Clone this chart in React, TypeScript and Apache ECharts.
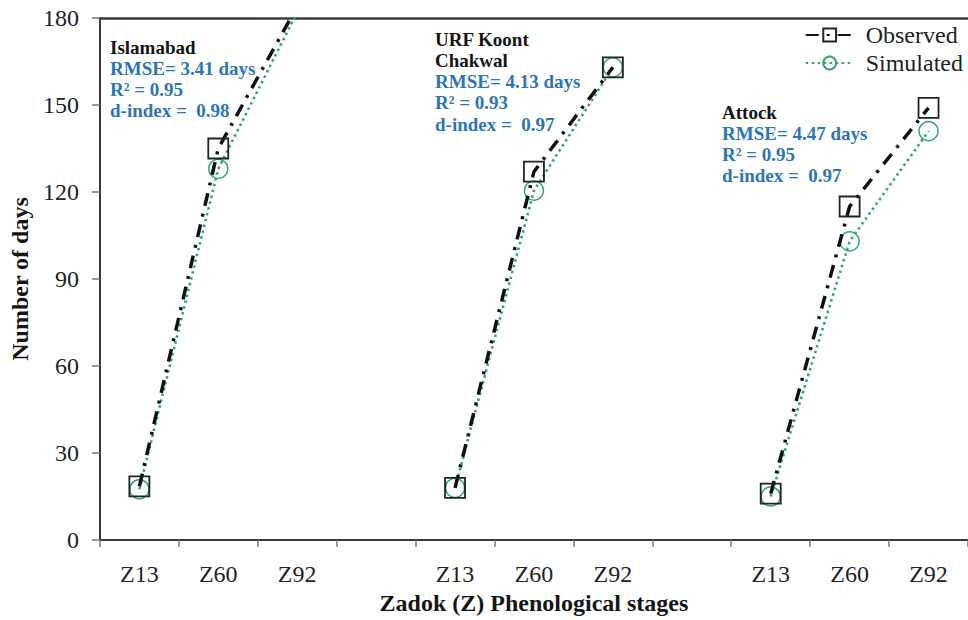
import React, { useEffect, useRef } from "react";
import * as echarts from "echarts";

const categories = ["Z13", "Z60", "Z92", "", "Z13", "Z60", "Z92", "", "Z13", "Z60", "Z92"];
const observed = [18.5, 135, 184, null, 18, 127, 163, null, 16, 115, 149];
const simulated = [17.5, 128, 182, null, 18, 120.5, 163, null, 15, 103, 141];

const siteNames = [["Islamabad"], ["URF Koont", "Chakwal"], ["Attock"]];
const siteRmse = ["3.41", "4.13", "4.47"];
const siteR2 = ["0.95", "0.93", "0.95"];
const siteD = ["0.98", "0.97", "0.97"];

const SERIF = "'Liberation Serif', 'Times New Roman', serif";
const BLUE = "#2e75b6";
const GREEN = "#35a56e";

// positions of annotation blocks (layout only)
const blockPos = [
  { x: 110, y: 47 },
  { x: 435, y: 39 },
  { x: 722, y: 112 },
];
const LINE_H = 21.3;

export default function App() {
  const ref = useRef<HTMLDivElement>(null);
  useEffect(() => {
    if (!ref.current) return;
    const chart = echarts.init(ref.current, null, { renderer: "svg" });

    const graphics: any[] = [];
    siteNames.forEach((names, i) => {
      const lines: { t: string; c: string }[] = [];
      names.forEach((n) => lines.push({ t: n, c: "#151515" }));
      lines.push({ t: `RMSE= ${siteRmse[i]} days`, c: BLUE });
      lines.push({ t: `R\u00b2 = ${siteR2[i]}`, c: BLUE });
      lines.push({ t: `d-index =  ${siteD[i]}`, c: BLUE });
      lines.forEach((l, j) => {
        graphics.push({
          type: "text",
          x: blockPos[i].x,
          y: blockPos[i].y + j * LINE_H,
          z: 100,
          style: {
            text: l.t,
            fill: l.c,
            fontFamily: SERIF,
            fontWeight: "bold",
            fontSize: 19,
            verticalAlign: "middle",
            align: "left",
          },
        });
      });
    });

    const axisName = {
      fontFamily: SERIF,
      fontWeight: "bold",
      fontSize: 24,
      color: "#151515",
    };
    const tickLabel = { fontFamily: SERIF, fontSize: 24, color: "#222" };

    chart.setOption({
      animation: false,
      backgroundColor: "#ffffff",
      grid: {
        left: 99,
        top: 18,
        right: -2,
        bottom: 76,
        show: false,
        containLabel: false,
      },
      legend: {
        orient: "vertical",
        right: 0,
        top: 18,
        itemWidth: 48,
        itemHeight: 16,
        itemGap: 4,
        textStyle: { ...tickLabel, padding: [0, 0, 0, 7] },
        data: ["Observed", "Simulated"],
      },
      xAxis: [
        {
          type: "category",
          data: categories,
          boundaryGap: true,
          name: "Zadok (Z) Phenological stages",
          nameLocation: "middle",
          nameGap: 51,
          nameTextStyle: axisName,
          axisLine: { show: true, lineStyle: { color: "#3a3a3a", width: 2 } },
          axisTick: { show: true, interval: 0, length: 7, lineStyle: { color: "#777", width: 1.5 } },
          axisLabel: { ...tickLabel, interval: 0, margin: 22 },
          splitLine: { show: false },
        },
        {
          type: "category",
          data: categories,
          position: "top",
          boundaryGap: true,
          axisLine: { show: true, lineStyle: { color: "#3a3a3a", width: 2.5 } },
          axisTick: { show: false },
          axisLabel: { show: false },
          splitLine: { show: false },
        },
      ],
      yAxis: {
        type: "value",
        min: 0,
        max: 180,
        interval: 30,
        name: "Number of days",
        nameLocation: "middle",
        nameGap: 66,
        nameTextStyle: axisName,
        axisLine: { show: true, lineStyle: { color: "#3a3a3a", width: 2 } },
        axisTick: { show: true, length: 8, lineStyle: { color: "#777", width: 1.5 } },
        axisLabel: { ...tickLabel, margin: 21 },
        splitLine: { show: false },
      },
      series: [
        {
          name: "Simulated",
          type: "line",
          data: simulated,
          connectNulls: false,
          clip: true,
          symbol: "circle",
          symbolSize: 19,
          showAllSymbol: true,
          lineStyle: { color: GREEN, width: 2.6, type: [2.5, 3.5] },
          itemStyle: { color: "rgba(255,255,255,0)", borderColor: GREEN, borderWidth: 1.5 },
          z: 2,
        },
        {
          name: "Observed",
          type: "line",
          data: observed,
          connectNulls: false,
          clip: true,
          symbol: "rect",
          symbolSize: 20,
          showAllSymbol: true,
          lineStyle: { color: "#111", width: 3.5, type: [13, 8, 3, 8] },
          itemStyle: { color: "rgba(255,255,255,0)", borderColor: "#222", borderWidth: 1.8 },
          z: 3,
        },
      ],
      graphic: graphics,
    });

    return () => chart.dispose();
  }, []);

  return (
    <div
      ref={ref}
      style={{ position: "absolute", left: 0, top: 0, width: 968, height: 620, background: "#fff" }}
    />
  );
}
